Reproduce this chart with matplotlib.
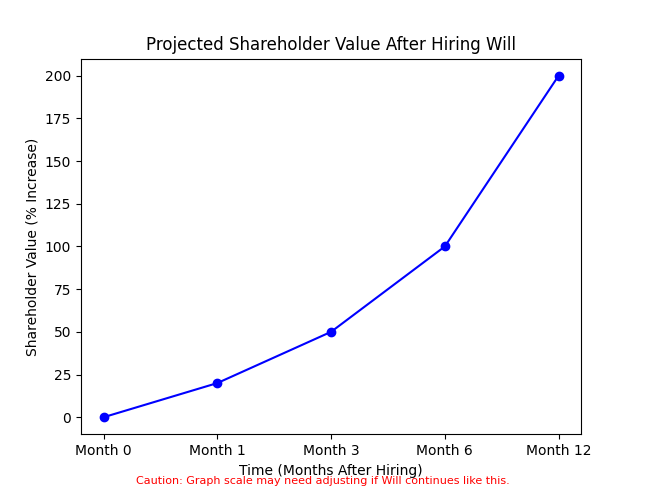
import matplotlib
matplotlib.use("Agg")
import matplotlib.pyplot as plt

months = ["Month 0", "Month 1", "Month 3", "Month 6", "Month 12"]
values = [0, 20, 50, 100, 200]

fig, ax = plt.subplots(figsize=(6.46, 4.88), dpi=100)
ax.plot(months, values, marker="o", color="blue")
ax.set_title("Projected Shareholder Value After Hiring Will")
ax.set_xlabel("Time (Months After Hiring)")
ax.set_ylabel("Shareholder Value (% Increase)")
fig.text(0.5, 0.008, "Caution: Graph scale may need adjusting if Will continues like this.",
         ha="center", fontsize=8, color="red")
fig.savefig("out.png")
